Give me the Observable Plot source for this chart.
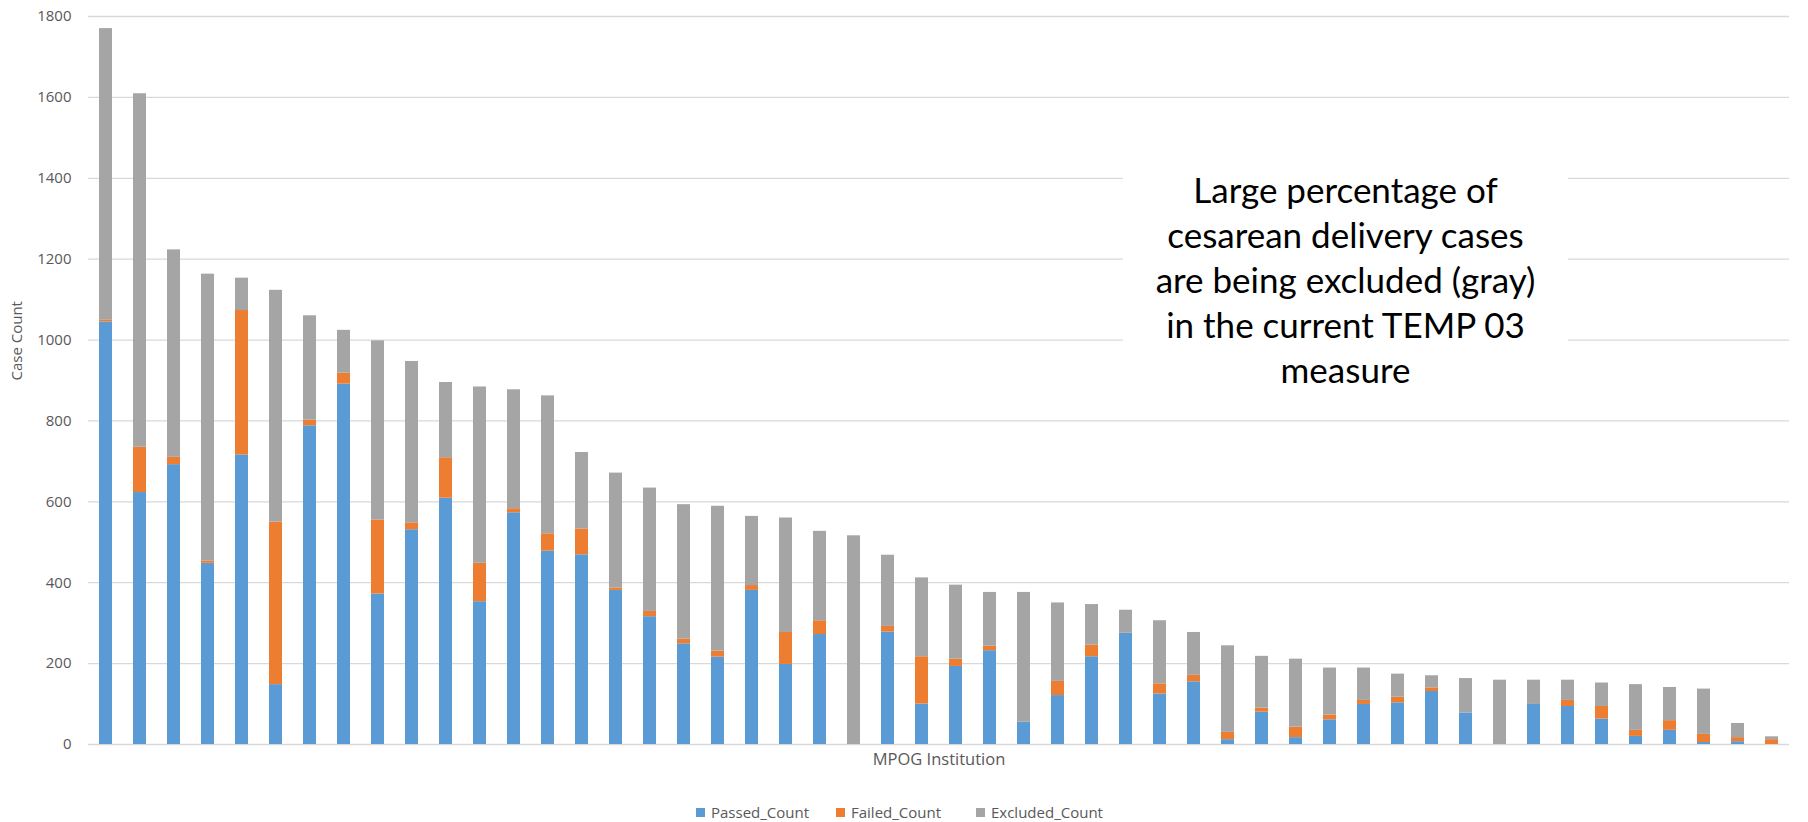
<!DOCTYPE html>
<html>
<head>
<meta charset="utf-8">
<script src="https://cdn.jsdelivr.net/npm/d3@7"></script>
<script src="https://cdn.jsdelivr.net/npm/@observablehq/plot@0.6"></script>
<style>
  html, body { margin: 0; padding: 0; background: #ffffff; }
  #wrap { position: relative; width: 1808px; height: 822px; overflow: hidden; font-family: "Open Sans", sans-serif; }
  #chart svg { display: block; }
  .note {
    position: absolute; left: 1123px; top: 99px; width: 445px; height: 313px;
    background: #ffffff; color: #000000; text-align: center;
    font-family: Lato, "Open Sans", sans-serif; font-size: 35px; line-height: 45px;
    box-sizing: border-box; padding-top: 68px;
  }
  .legend-item {
    position: absolute; top: 801px; height: 22px; display: flex; align-items: center;
    font-family: "Open Sans", sans-serif; font-size: 15px; color: #595959; white-space: nowrap;
  }
  .legend-item .sw { width: 9px; height: 9px; margin-right: 6px; }
</style>
</head>
<body>
<div id="wrap">
  <div id="chart"></div>
  <div class="note">Large percentage of<br>cesarean delivery cases<br>are being excluded (gray)<br>in the current TEMP 03<br>measure</div>
  <div id="legend"></div>
</div>
<script>
// Institutions, ordered by total case count (descending)
const institutions = [1, 2, 3, 4, 5, 6, 7, 8, 9, 10, 11, 12, 13, 14, 15, 16, 17, 18, 19, 20,
  21, 22, 23, 24, 25, 26, 27, 28, 29, 30, 31, 32, 33, 34, 35, 36, 37, 38, 39, 40,
  41, 42, 43, 44, 45, 46, 47, 48, 49, 50];

const passedCount = [1045, 623, 692, 448, 716, 148, 788, 891, 372, 531, 609, 353, 573, 478, 469, 381, 316, 249, 216, 381,
  198, 272, 0, 278, 100, 193, 232, 55, 121, 217, 275, 125, 155, 12, 80, 17, 61, 99, 103, 131,
  78, 0, 99, 94, 63, 20, 35, 5, 7, 0];

const failedCount = [5, 112, 18, 6, 357, 402, 14, 27, 183, 17, 100, 95, 10, 43, 64, 6, 13, 12, 15, 12,
  79, 34, 0, 14, 117, 18, 11, 0, 35, 29, 0, 25, 16, 18, 10, 26, 12, 10, 14, 9,
  0, 0, 0, 15, 31, 15, 24, 20, 10, 12];

const excludedCount = [720, 874, 513, 709, 80, 573, 258, 106, 443, 399, 186, 436, 294, 341, 189, 284, 305, 332, 358, 171,
  283, 221, 516, 176, 195, 183, 133, 321, 194, 100, 57, 156, 106, 214, 128, 168, 116, 80, 57, 30,
  85, 159, 60, 50, 58, 113, 82, 112, 35, 7];

const seriesNames = ["Passed_Count", "Failed_Count", "Excluded_Count"];
const seriesColors = ["#5b9bd5", "#ed7d31", "#a5a5a5"];
const yTicks = [0, 200, 400, 600, 800, 1000, 1200, 1400, 1600, 1800];

const seriesValues = [passedCount, failedCount, excludedCount];

// long-format table for the stacked bars
const rows = [];
institutions.forEach((inst, i) => {
  seriesNames.forEach((name, s) => {
    rows.push({ inst, series: name, count: seriesValues[s][i] });
  });
});

const axisColor = "#595959";
const gridColor = "#d9d9d9";

const chart = Plot.plot({
  width: 1808,
  height: 775,
  marginTop: 16,
  marginBottom: 31,
  marginLeft: 88,
  marginRight: 19,
  style: { fontFamily: "'Open Sans', sans-serif", background: "#ffffff", color: axisColor },
  x: { type: "band", domain: institutions, paddingInner: 0.61, paddingOuter: 0.305, axis: null },
  y: { domain: [0, 1800] },
  color: { domain: seriesNames, range: seriesColors },
  marks: [
    Plot.ruleY(yTicks, { stroke: gridColor, strokeWidth: 1.3 }),
    Plot.axisY({ ticks: yTicks, tickFormat: d3.format("d"), tickSize: 0, tickPadding: 17, fontSize: 15, fill: axisColor, label: null }),
    Plot.barY(rows, {
      x: "inst", y: "count", fill: "series", order: seriesNames
    }),
    Plot.text(["Case Count"], {
      frameAnchor: "left", dx: -71, rotate: -90, fontSize: 15, fill: axisColor
    }),
    Plot.text(["MPOG Institution"], {
      frameAnchor: "bottom", dy: 20, fontSize: 16.5, fill: axisColor
    })
  ]
});
document.getElementById("chart").appendChild(chart);

// legend below the plot
const legendLeft = [696, 836, 976];
const legend = document.getElementById("legend");
seriesNames.forEach((name, i) => {
  const item = document.createElement("div");
  item.className = "legend-item";
  item.style.left = legendLeft[i] + "px";
  const sw = document.createElement("span");
  sw.className = "sw";
  sw.style.background = seriesColors[i];
  item.appendChild(sw);
  item.appendChild(document.createTextNode(name));
  legend.appendChild(item);
});
</script>
</body>
</html>
